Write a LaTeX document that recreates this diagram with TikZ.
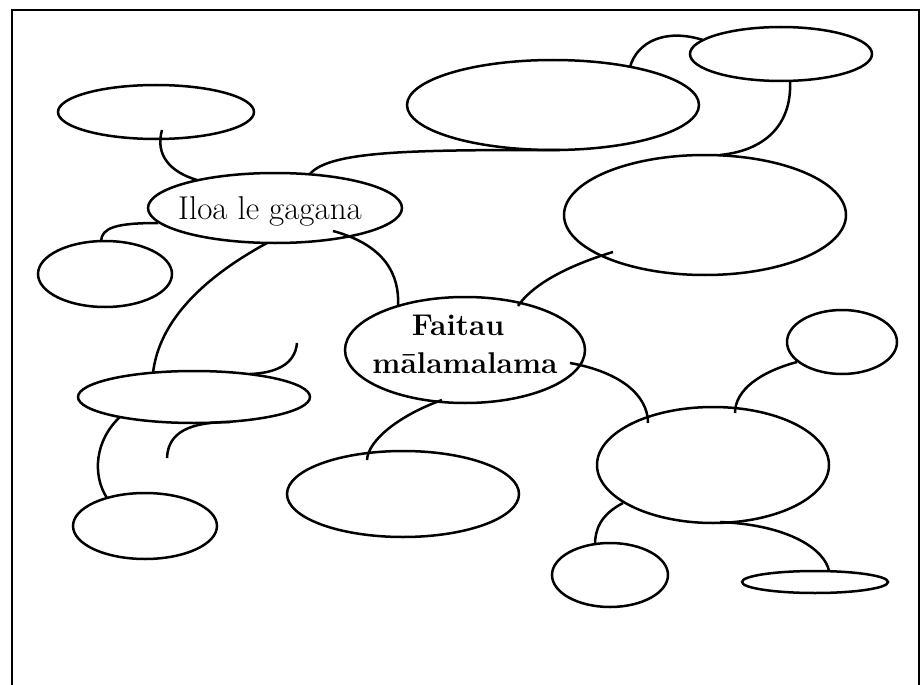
\documentclass[tikz,border=0pt]{standalone}
\usepackage{fontspec}
\usetikzlibrary{shapes.geometric,calc}
\begin{document}
\begin{tikzpicture}[x=1pt,y=-1pt,
  bub/.style={ellipse,draw,line width=2.5pt,inner sep=0pt,outer sep=0pt},
  con/.style={line width=2.5pt},
  lbl/.style={anchor=base,inner sep=0pt}]
\useasboundingbox (0,0) rectangle (922,685);
\draw[line width=2.6pt] (12,695) -- (12,10) -- (919,10) -- (919,695);
% bubbles
\node[bub,minimum width=196pt,minimum height=54pt] (tl) at (156,112) {};
\node[bub,minimum width=254pt,minimum height=70pt] (iloa) at (275,208) {};
\node[bub,minimum width=134pt,minimum height=66pt] (sl) at (105,274) {};
\node[bub,minimum width=292pt,minimum height=90pt] (bt) at (553,105) {};
\node[bub,minimum width=182pt,minimum height=54pt] (tr) at (781,54) {};
\node[bub,minimum width=282pt,minimum height=120pt] (rb) at (705,215) {};
\node[bub,minimum width=240pt,minimum height=106pt] (fa) at (465,350) {};
\node[bub,minimum width=232pt,minimum height=52pt] (lm) at (194,397) {};
\node[bub,minimum width=144pt,minimum height=66pt] (bl) at (145,526) {};
\node[bub,minimum width=232pt,minimum height=86pt] (bc) at (403,494) {};
\node[bub,minimum width=110pt,minimum height=64pt] (sr) at (842,342) {};
\node[bub,minimum width=232pt,minimum height=116pt] (rc) at (713,465) {};
\node[bub,minimum width=116pt,minimum height=64pt] (bs) at (610,575) {};
\node[bub,minimum width=146pt,minimum height=22pt] (bf) at (815,582) {};
% texts
\node[lbl,font=\fontsize{33}{38}\selectfont] (iloatxt) at (270,219) {Iloa le gagana};
\node[lbl,font=\bfseries\fontsize{30}{38}\selectfont] (fat1) at (458,335) {Faitau};
\node[lbl,font=\bfseries\fontsize{30}{38}\selectfont] (fat2) at (465,373) {mālamalama};
% free ends
\coordinate (f1) at (297,343);
\coordinate (f2) at (167,458);
% connectors
\draw[con] ($(tl)+(6,18)$) .. controls (155,155) and (170,172) .. ($(iloa)+(-78,-28)$);
\draw[con] ($(iloa)+(35,-34)$) .. controls (330,150) and (420,150) .. ($(bt)+(7,45)$);
\draw[con] ($(rb)+(15,-60)$) .. controls (770,150) and (792,120) .. ($(tr)+(9,27)$);
\draw[con] ($(bt)+(77,-38)$) .. controls (637,42) and (665,28) .. ($(tr)+(-78,-14)$);
\draw[con] ($(sl)+(-4,-33)$) .. controls (102,228) and (115,223) .. ($(iloa)+(-117,15)$);
\draw[con] ($(iloa)+(-8,35)$) .. controls (190,285) and (158,330) .. ($(lm)+(-41,-24)$);
\draw[con] ($(iloa)+(58,23)$) .. controls (385,245) and (400,275) .. ($(fa)+(-67,-43)$);
\draw[con] ($(fa)+(53,-44)$) .. controls (530,288) and (560,268) .. ($(rb)+(-92,37)$);
\draw[con] (f1) .. controls (295,365) and (275,373) .. ($(lm)+(56,-23)$);
\draw[con] ($(lm)+(-74,20)$) .. controls (95,440) and (92,475) .. ($(bl)+(-38,-28)$);
\draw[con] (f2) .. controls (168,432) and (190,422) .. ($(lm)+(36,25)$);
\draw[con] ($(fa)+(-23,50)$) .. controls (400,415) and (368,440) .. ($(bc)+(-36,-34)$);
\draw[con] ($(fa)+(105,13)$) .. controls (620,372) and (648,395) .. ($(rc)+(-65,-42)$);
\draw[con] ($(sr)+(-45,20)$) .. controls (760,372) and (735,390) .. ($(rc)+(22,-52)$);
\draw[con] ($(rc)+(-90,38)$) .. controls (600,515) and (595,530) .. ($(bs)+(-15,-30)$);
\draw[con] ($(rc)+(7,57)$) .. controls (790,525) and (825,550) .. ($(bf)+(14,-11)$);
\end{tikzpicture}
\end{document}
